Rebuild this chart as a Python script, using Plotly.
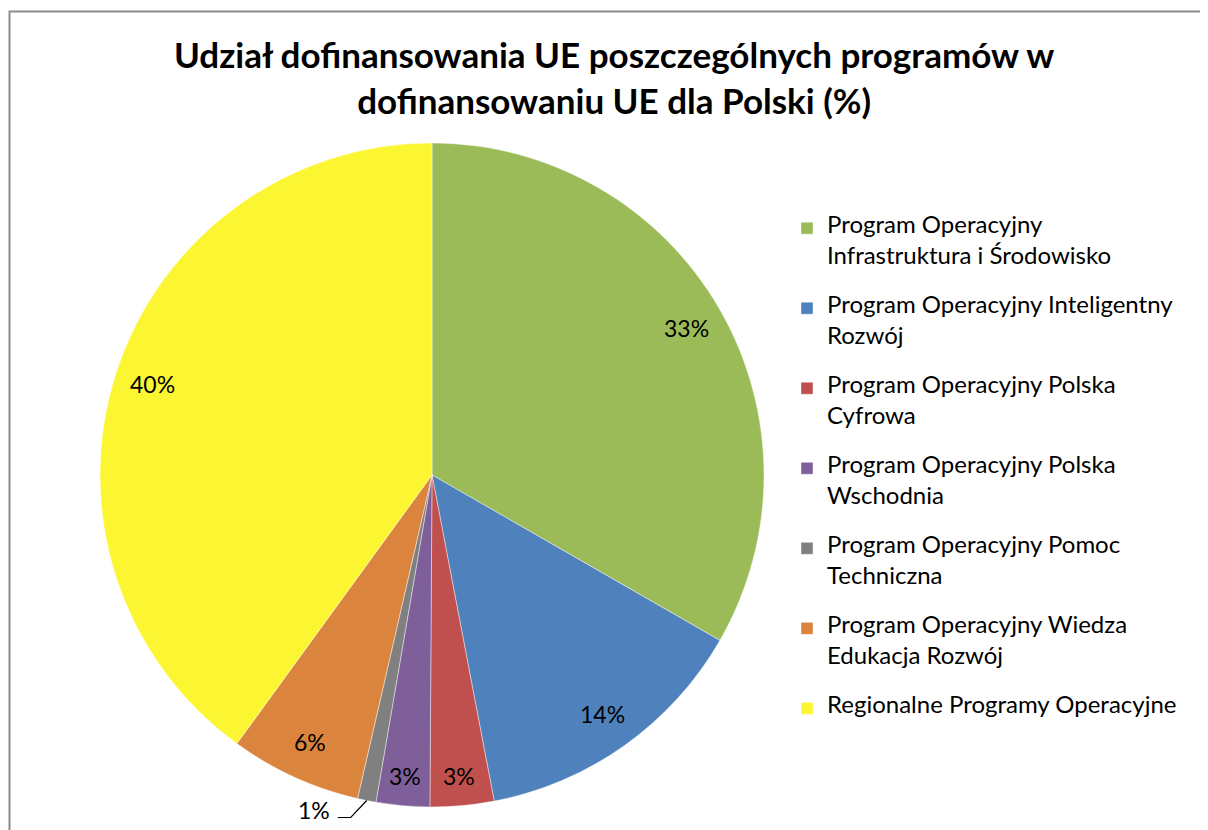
import math
import plotly.graph_objects as go

# page has an 8px body margin, so the figure is 1200x822 to fill the 1208x830 window
OFF = 8
W, H = 1208 - OFF, 830 - OFF

labels = [
    "Program Operacyjny<br>Infrastruktura i Środowisko",
    "Program Operacyjny Inteligentny<br>Rozwój",
    "Program Operacyjny Polska<br>Cyfrowa",
    "Program Operacyjny Polska<br>Wschodnia",
    "Program Operacyjny Pomoc<br>Techniczna",
    "Program Operacyjny Wiedza<br>Edukacja Rozwój",
    "Regionalne Programy Operacyjne",
]
values = [33.3, 13.7, 3.1, 2.6, 0.9, 6.4, 40.0]
colors = ["#9BBB59", "#4F81BD", "#C0504D", "#7F5F9A", "#808080", "#DB843D", "#FCF632"]
title_lines = ["Udział dofinansowania UE poszczególnych programów w",
               "dofinansowaniu UE dla Polski (%)"]

FONT = "Lato, Open Sans, sans-serif"


def px(x):
    return (x - OFF) / W


def py(y):
    return 1 - (y - OFF) / H


# pie geometry (window pixels)
cx, cy, R = 432, 475, 332
dom_x = [px(cx - R), px(cx + R)]
dom_y = [py(cy + R), py(cy - R)]

# legend: small base font gives 15.4px rows; text lines are put on every other row
legend_labels = []
for lab in labels:
    parts = [f'<span style="font-size:24px">{part}</span>' for part in lab.split("<br>")]
    legend_labels.append("<br> <br>".join(parts) + "<br> <br> " if len(parts) > 1 else parts[0])

fig = go.Figure(go.Pie(
    labels=legend_labels, values=values, sort=False, direction="clockwise", rotation=0,
    marker=dict(colors=colors, line=dict(color="rgba(255,255,255,0.6)", width=0.7)),
    textinfo="none", hoverinfo="percent",
    domain=dict(x=dom_x, y=dom_y),
))

total = sum(values)
cum = 0
annotations = []
shapes = []
lab_font = dict(size=23, color="black", family=FONT)
for i, v in enumerate(values):
    mid = (cum + v / 2) / total * 2 * math.pi
    cum += v
    pct = f"{round(v / total * 100)}%"
    if v / total < 0.02:
        # outside label with leader line
        ex, ey = cx + R * math.sin(mid), cy - R * math.cos(mid)
        bx, by = ex - 16, ey + 17
        lx = bx - 13
        shapes.append(dict(type="path", xref="paper", yref="paper",
                           path=f"M {px(ex)},{py(ey)} L {px(bx)},{py(by)} L {px(lx)},{py(by)}",
                           line=dict(color="black", width=1.2)))
        annotations.append(dict(x=px(lx - 6), y=py(by - 8), xref="paper", yref="paper",
                                text=pct, showarrow=False, xanchor="right", yanchor="middle",
                                font=lab_font))
    else:
        rr = 0.885 * R if v / total > 0.05 else 0.91 * R
        tx, ty = cx + rr * math.sin(mid), cy - rr * math.cos(mid)
        annotations.append(dict(x=px(tx), y=py(ty), xref="paper", yref="paper",
                                text=pct, showarrow=False, xanchor="center", yanchor="middle",
                                font=lab_font))

annotations.append(dict(x=px(614), y=py(77), xref="paper", yref="paper",
                        text="<b>" + "<br>".join(title_lines) + "</b>", showarrow=False,
                        xanchor="center", yanchor="middle", align="center",
                        font=dict(size=35, color="black", family=FONT)))

# chart frame
shapes.append(dict(type="rect", xref="paper", yref="paper", x0=px(9.5), y0=-0.05, x1=1.05, y1=py(11.5),
                   line=dict(color="#8C8C8C", width=2), fillcolor="rgba(0,0,0,0)"))

fig.update_layout(
    width=W, height=H, margin=dict(l=0, r=0, t=0, b=0),
    paper_bgcolor="white", plot_bgcolor="white",
    annotations=annotations, shapes=shapes,
    showlegend=True,
    legend=dict(x=px(787), y=py(214), xanchor="left", yanchor="top",
                font=dict(size=11.85, color="black", family=FONT),
                valign="top", itemwidth=30, bgcolor="rgba(0,0,0,0)"),
)

fig.write_html("out.html")
